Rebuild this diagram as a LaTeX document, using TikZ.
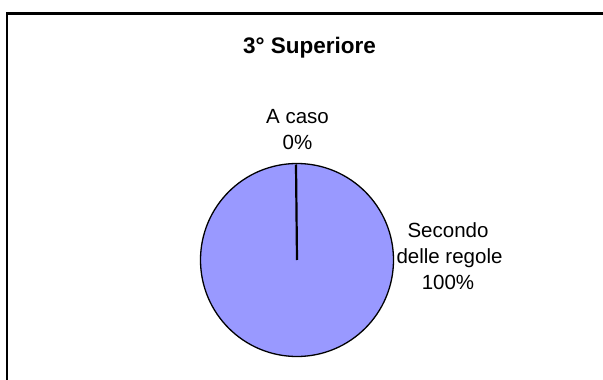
\documentclass[tikz,border=0pt]{standalone}
\usepackage{fontspec}
\setmainfont{Liberation Sans}
\definecolor{piefill}{HTML}{9999FF}
\begin{document}
\begin{tikzpicture}[x=1pt,y=-1pt,
  lbl/.style={anchor=base,inner sep=0pt,font=\fontsize{20.5}{24}\selectfont},
  ttl/.style={anchor=base,inner sep=0pt,font=\fontsize{22.5}{26}\selectfont\bfseries},
  piestyle/.style={circle,draw=black,line width=1.3pt,fill=piefill,minimum size=193pt,inner sep=0pt}]
\useasboundingbox (0,0) rectangle (603,380);
\fill[white] (0,0) rectangle (603,380);
\draw[line width=2.5pt] (7,380) -- (7,13.5) -- (603,13.5);
\node[ttl] (title) at (309.5,53.3) {3° Superiore};
\node[piestyle] (pie) at (297,260) {};
\coordinate (top) at (296,164.5);
\draw[line width=2.2pt] (pie.center) -- (top);
\node[lbl] (a1) at (297.5,123) {A caso};
\node[lbl] (a2) at (297.5,149) {0\%};
\node[lbl] (s1) at (448,237) {Secondo};
\node[lbl] (s2) at (449.5,263) {delle regole};
\node[lbl] (s3) at (448,289) {100\%};
\end{tikzpicture}
\end{document}
